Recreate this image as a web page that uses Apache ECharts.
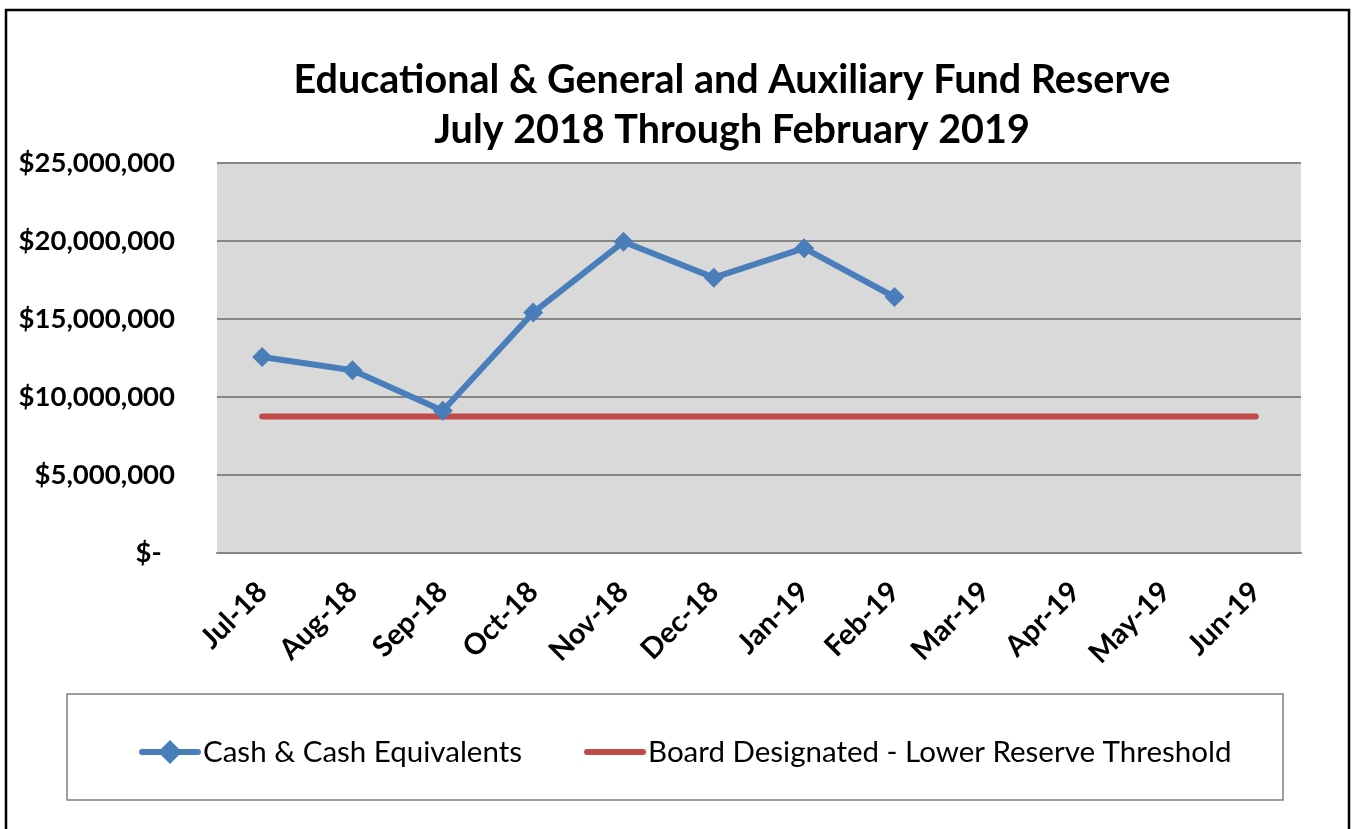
<!DOCTYPE html>
<html>
<head>
<meta charset="utf-8">
<script src="https://cdn.jsdelivr.net/npm/echarts@6.0.0/dist/echarts.min.js"></script>
<style>
  html, body { margin: 0; padding: 0; background: #fff; }
  #chart { width: 1352px; height: 829px; }
</style>
</head>
<body>
<div id="chart"></div>
<script>
// months on the x axis
var months = ['Jul-18', 'Aug-18', 'Sep-18', 'Oct-18', 'Nov-18', 'Dec-18',
  'Jan-19', 'Feb-19', 'Mar-19', 'Apr-19', 'May-19', 'Jun-19'];

// cash & cash equivalents (only through Feb-19)
var cashValues = [12570000, 11720000, 9120000, 15410000, 19950000, 17650000, 19540000, 16410000];

// board designated lower reserve threshold
var thresholdValues = [8750000, 8750000, 8750000, 8750000, 8750000, 8750000,
  8750000, 8750000, 8750000, 8750000, 8750000, 8750000];

var seriesNames = ['Cash & Cash Equivalents', 'Board Designated - Lower Reserve Threshold'];

var titleLines = ['Educational & General and Auxiliary Fund Reserve', 'July 2018 Through February 2019'];

var fontFamily = 'Lato, "Open Sans", sans-serif';

var chartDom = document.getElementById('chart');
var myChart = echarts.init(chartDom);

var option = {
  backgroundColor: '#ffffff',
  animation: false,
  title: {
    text: titleLines.join('\n'),
    left: 727,
    textAlign: 'center',
    top: 50,
    textStyle: {
      fontFamily: fontFamily,
      fontSize: 39.5,
      fontWeight: 'bold',
      color: '#000',
      lineHeight: 50
    }
  },
  graphic: [
    {
      // outer chart border
      type: 'rect',
      shape: { x: 6, y: 10, width: 1343, height: 840 },
      style: { fill: 'none', stroke: '#000', lineWidth: 2.5 },
      silent: true
    },
    {
      // legend frame
      type: 'rect',
      shape: { x: 67, y: 694, width: 1216, height: 106 },
      style: { fill: 'none', stroke: '#7f7f7f', lineWidth: 1.5 },
      silent: true
    }
  ],
  legend: {
    left: 134,
    top: 732,
    itemWidth: 56,
    itemHeight: 30,
    itemGap: 62,
    lineStyle: { width: 6, cap: 'round' },
    data: [
      { name: seriesNames[0] },
      { name: seriesNames[1], itemStyle: { opacity: 0 } }
    ],
    textStyle: {
      fontFamily: fontFamily,
      fontSize: 29.5,
      color: '#000',
      lineHeight: 30
    }
  },
  grid: {
    left: 217,
    right: 51,
    top: 163,
    bottom: 276,
    show: true,
    backgroundColor: '#d9d9d9',
    borderWidth: 0,
    containLabel: false
  },
  xAxis: {
    type: 'category',
    data: months,
    boundaryGap: true,
    axisLine: { lineStyle: { color: '#868686', width: 2 } },
    axisTick: { inside: true, length: 6, lineStyle: { color: '#868686', width: 2 } },
    axisLabel: {
      rotate: 45,
      margin: 34,
      fontFamily: fontFamily,
      fontSize: 29,
      fontWeight: 'bold',
      color: '#000',
      interval: 0
    }
  },
  yAxis: {
    type: 'value',
    min: 0,
    max: 25000000,
    interval: 5000000,
    axisLine: { show: false },
    axisTick: { show: false },
    splitLine: { lineStyle: { color: '#868686', width: 2 } },
    axisLabel: {
      margin: 42,
      fontFamily: fontFamily,
      fontSize: 27.5,
      fontWeight: 'bold',
      color: '#000',
      formatter: function (v) {
        if (v === 0) return '$-  ';
        return '$' + v.toLocaleString('en-US');
      }
    }
  },
  series: [
    {
      name: seriesNames[0],
      type: 'line',
      data: cashValues,
      symbol: 'diamond',
      symbolSize: 20,
      z: 3,
      lineStyle: { color: '#4a7ebb', width: 6 },
      itemStyle: { color: '#4a7ebb' }
    },
    {
      name: seriesNames[1],
      type: 'line',
      data: thresholdValues,
      symbol: 'none',
      z: 2,
      lineStyle: { color: '#be4b48', width: 6, cap: 'round' },
      itemStyle: { color: '#be4b48' }
    }
  ]
};

myChart.setOption(option);

window.addEventListener('resize', function () {
  myChart.resize();
});
</script>
</body>
</html>
